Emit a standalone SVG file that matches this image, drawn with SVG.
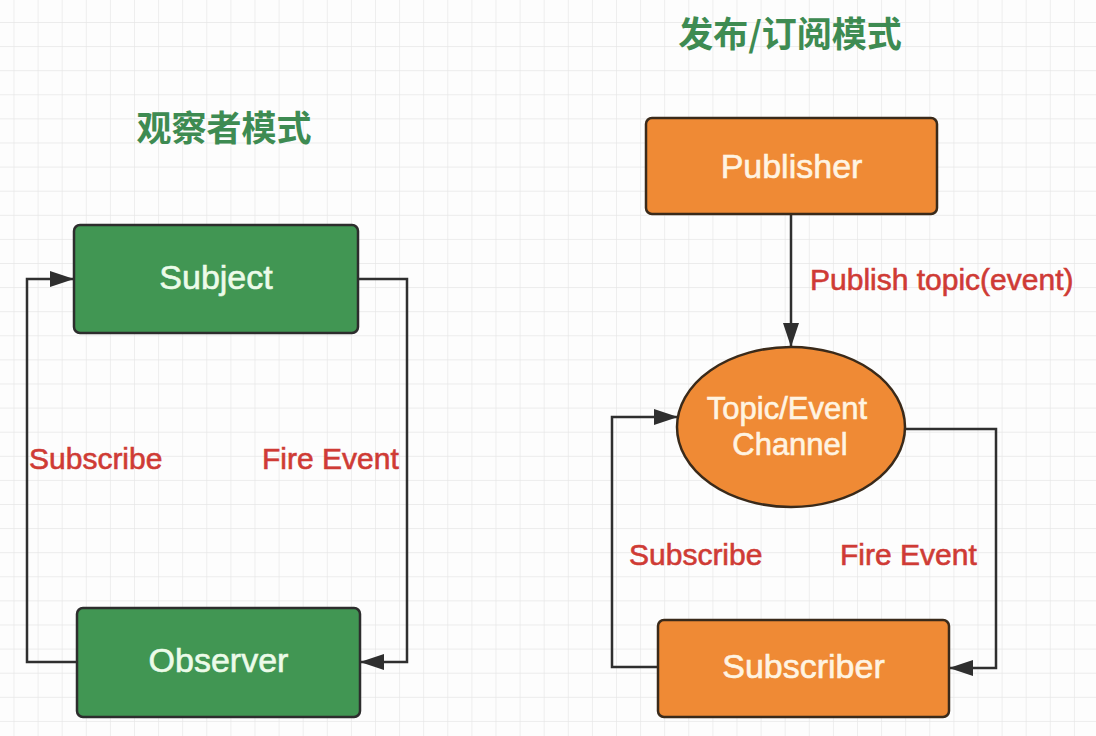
<svg xmlns="http://www.w3.org/2000/svg" width="1096" height="736" viewBox="0 0 1096 736">
<defs>
<pattern id="grid" x="13.5" y="22" width="24.1" height="24.1" patternUnits="userSpaceOnUse">
<path d="M0,0 H24.1 M0,0 V24.1" fill="none" stroke="#e6e6e6" stroke-width="1.3"/>
</pattern>
<marker id="arr" markerUnits="userSpaceOnUse" markerWidth="26" markerHeight="18" refX="24" refY="8" orient="auto">
<path d="M0,0 L24,8 L0,16 z" fill="#2f2f2f"/>
</marker>
<style>
.bg{fill:#fdfdfd}
.title{font-family:"Noto Sans CJK SC","Liberation Sans",sans-serif;font-size:35px;font-weight:bold;fill:#3e8b52;text-anchor:middle}
.gnode{fill:#419653;stroke:#2d2d2d;stroke-width:2.5}
.onode{fill:#ef8a35;stroke:#3a2a1a;stroke-width:2.5}
.gtxt{font-family:"Liberation Sans",Arial,sans-serif;font-size:34px;fill:#ecfbe9;stroke:#ecfbe9;stroke-width:0.6;text-anchor:middle}
.otxt{font-family:"Liberation Sans",Arial,sans-serif;font-size:34px;fill:#fff4e2;stroke:#fff4e2;stroke-width:0.6;text-anchor:middle}
.lbl{font-family:"Liberation Sans",Arial,sans-serif;font-size:30px;fill:#cf3b35;stroke:#cf3b35;stroke-width:0.6}
.conn{fill:none;stroke:#2f2f2f;stroke-width:2.5}
</style>
</defs>
<rect class="bg" x="0" y="0" width="1096" height="736"/>
<rect x="0" y="0" width="1096" height="736" fill="url(#grid)"/>

<g id="titles">
<text class="title" x="224" y="141">观察者模式</text>
<text class="title" x="790" y="47">发布/订阅模式</text>
</g>

<g id="connectors">
<path class="conn" d="M77,662 H27 V279 H74" marker-end="url(#arr)"/>
<path class="conn" d="M358,279 H407 V662 H360" marker-end="url(#arr)"/>
<path class="conn" d="M791,214 V347" marker-end="url(#arr)"/>
<path class="conn" d="M658,667 H612 V417 H678" marker-end="url(#arr)"/>
<path class="conn" d="M905,429 H996 V668 H949" marker-end="url(#arr)"/>
</g>

<g id="labels">
<text class="lbl" x="29" y="469">Subscribe</text>
<text class="lbl" x="262" y="469">Fire Event</text>
<text class="lbl" x="629" y="565">Subscribe</text>
<text class="lbl" x="840" y="565">Fire Event</text>
<text class="lbl" x="810" y="290">Publish topic(event)</text>
</g>

<g id="subject">
<rect class="gnode" x="74" y="225" width="284" height="108" rx="6"/>
<text class="gtxt" x="216" y="289">Subject</text>
</g>
<g id="observer">
<rect class="gnode" x="77" y="608" width="283" height="109" rx="6"/>
<text class="gtxt" x="218.5" y="672">Observer</text>
</g>
<g id="publisher">
<rect class="onode" x="646" y="118" width="291" height="96" rx="6"/>
<text class="otxt" x="791.5" y="178">Publisher</text>
</g>
<g id="channel">
<ellipse class="onode" cx="791" cy="427" rx="114" ry="80"/>
<text class="otxt" x="787" y="419" style="font-size:31px">Topic/Event</text>
<text class="otxt" x="790" y="455" style="font-size:31px">Channel</text>
</g>
<g id="subscriber">
<rect class="onode" x="658" y="620" width="291" height="97" rx="6"/>
<text class="otxt" x="803.5" y="678">Subscriber</text>
</g>
</svg>
